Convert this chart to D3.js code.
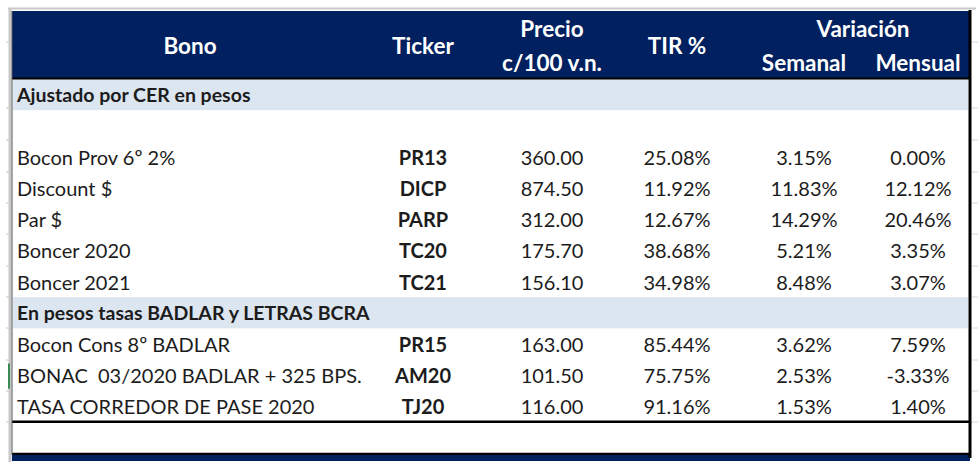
<!DOCTYPE html>
<html lang="es">
<head>
<meta charset="utf-8">
<title>Bonos en pesos</title>
<script src="https://d3js.org/d3.v7.min.js"></script>
<style>
  body { margin: 0; background: #fff; }
  svg text { font-family: Lato, "Open Sans", sans-serif; white-space: pre; }
  .hdr { fill: #fff; font-weight: bold; font-size: 22.5px; }
  .cell { fill: #1c1c1c; font-size: 20px; }
  .sect { fill: #1c1c1c; font-size: 19.5px; font-weight: bold; }
</style>
</head>
<body>
<script>
// table data
const sections = ["Ajustado por CER en pesos", "En pesos tasas BADLAR y LETRAS BCRA"];
const bonos = ["Bocon Prov 6º 2%", "Discount $", "Par $", "Boncer 2020", "Boncer 2021",
               "Bocon Cons 8º BADLAR", "BONAC  03/2020 BADLAR + 325 BPS.", "TASA CORREDOR DE PASE 2020"];
const tickers = ["PR13", "DICP", "PARP", "TC20", "TC21", "PR15", "AM20", "TJ20"];
const precios = ["360.00", "874.50", "312.00", "175.70", "156.10", "163.00", "101.50", "116.00"];
const tir = ["25.08%", "11.92%", "12.67%", "38.68%", "34.98%", "85.44%", "75.75%", "91.16%"];
const semanal = ["3.15%", "11.83%", "14.29%", "5.21%", "8.48%", "3.62%", "2.53%", "1.53%"];
const mensual = ["0.00%", "12.12%", "20.46%", "3.35%", "3.07%", "7.59%", "-3.33%", "1.40%"];

// header labels (line 1 / line 2)
const headCols = ["bono", "ticker", "precio", "tir", "sem", "men"];
const headLabels = [["Bono"], ["Ticker"], ["Precio", "c/100 v.n."], ["TIR %"], ["", "Semanal"], ["", "Mensual"]];

const W = 980, H = 471;
const left = 12, right = 969;

const svg = d3.select("body").append("svg").attr("width", W).attr("height", H);

// row order: section, blank, 5 rows, section, 3 rows, blank
const rowKeys = ["s0", "b0", "r0", "r1", "r2", "r3", "r4", "s1", "r5", "r6", "r7", "b1"];
const y = d3.scaleBand().domain(rowKeys).range([79, 453]);

// column centers
const x = d3.scaleOrdinal().domain(headCols).range([190, 423, 552, 677, 804, 918]);

// excel gridline stubs
svg.append("line").attr("x1", 8).attr("x2", 976).attr("y1", 8.5).attr("y2", 8.5)
  .attr("stroke", "#c8c8c8").attr("stroke-width", 2);
svg.append("line").attr("x1", 10).attr("x2", 10).attr("y1", 8).attr("y2", 462)
  .attr("stroke", "#c8c8c8").attr("stroke-width", 3);
[42, 108, 140, 172, 203, 234, 266, 297, 328, 360, 391, 422].forEach(v => {
  svg.append("line").attr("x1", 6).attr("x2", 10).attr("y1", v).attr("y2", v).attr("stroke", "#c8c8c8");
  svg.append("line").attr("x1", 972).attr("x2", 978).attr("y1", v).attr("y2", v).attr("stroke", "#d8d8d8");
});
svg.append("rect").attr("x", 8).attr("y", y("r6") + 4).attr("width", 2).attr("height", y.bandwidth() - 6)
  .attr("fill", "#3a8a55");

// header band
svg.append("rect").attr("x", left).attr("y", 11).attr("width", right - left).attr("height", 67)
  .attr("fill", "#002060");

headCols.forEach((c, i) => {
  const lines = headLabels[i];
  if (lines.length === 1) {
    svg.append("text").attr("class", "hdr").attr("x", x(c)).attr("y", 45)
      .attr("text-anchor", "middle").attr("dominant-baseline", "central").text(lines[0]);
  } else {
    lines.forEach((t, j) => {
      svg.append("text").attr("class", "hdr").attr("x", x(c)).attr("y", 28 + j * 34)
        .attr("text-anchor", "middle").attr("dominant-baseline", "central").text(t);
    });
  }
});
svg.append("text").attr("class", "hdr").attr("x", (x("sem") + x("men")) / 2 + 2).attr("y", 28)
  .attr("text-anchor", "middle").attr("dominant-baseline", "central").text("Variación");

// section rows
svg.selectAll("rect.sect").data(["s0", "s1"]).enter().append("rect")
  .attr("x", left + 1).attr("y", d => y(d)).attr("width", right - left - 2).attr("height", y.bandwidth())
  .attr("fill", "#dce6f1");
svg.selectAll("text.sect").data(sections).enter().append("text").attr("class", "sect")
  .attr("x", 17).attr("y", (d, i) => y("s" + i) + y.bandwidth() / 2)
  .attr("dominant-baseline", "central").text(d => d);

// data rows
const rows = bonos.map((b, i) => ({
  key: "r" + i, bono: b, ticker: tickers[i], precio: precios[i], tir: tir[i], sem: semanal[i], men: mensual[i]
}));
const g = svg.selectAll("g.row").data(rows).enter().append("g")
  .attr("transform", d => "translate(0," + (y(d.key) + y.bandwidth() / 2) + ")");
g.append("text").attr("class", "cell").attr("x", 17).attr("dominant-baseline", "central").text(d => d.bono);
g.append("text").attr("class", "cell").attr("x", x("ticker")).attr("text-anchor", "middle")
  .attr("dominant-baseline", "central").attr("font-weight", "bold").text(d => d.ticker);
["precio", "tir", "sem", "men"].forEach(k => {
  g.append("text").attr("class", "cell").attr("x", x(k)).attr("text-anchor", "middle")
    .attr("dominant-baseline", "central").text(d => d[k]);
});

// borders
svg.append("line").attr("x1", left).attr("x2", right + 2).attr("y1", 78.5).attr("y2", 78.5)
  .attr("stroke", "#000").attr("stroke-width", 2);
svg.append("line").attr("x1", left).attr("x2", right + 2).attr("y1", y("b1")).attr("y2", y("b1"))
  .attr("stroke", "#000").attr("stroke-width", 2.5);
svg.append("line").attr("x1", left).attr("x2", right + 2).attr("y1", 454).attr("y2", 454)
  .attr("stroke", "#000").attr("stroke-width", 2.5);
svg.append("rect").attr("x", left).attr("y", 455).attr("width", right - left + 1).attr("height", 6)
  .attr("fill", "#002060");
svg.append("line").attr("x1", left).attr("x2", left).attr("y1", 11).attr("y2", 455)
  .attr("stroke", "#555").attr("stroke-width", 1);
svg.append("line").attr("x1", right + 1).attr("x2", right + 1).attr("y1", 10).attr("y2", 458)
  .attr("stroke", "#000").attr("stroke-width", 3);
</script>
</body>
</html>
